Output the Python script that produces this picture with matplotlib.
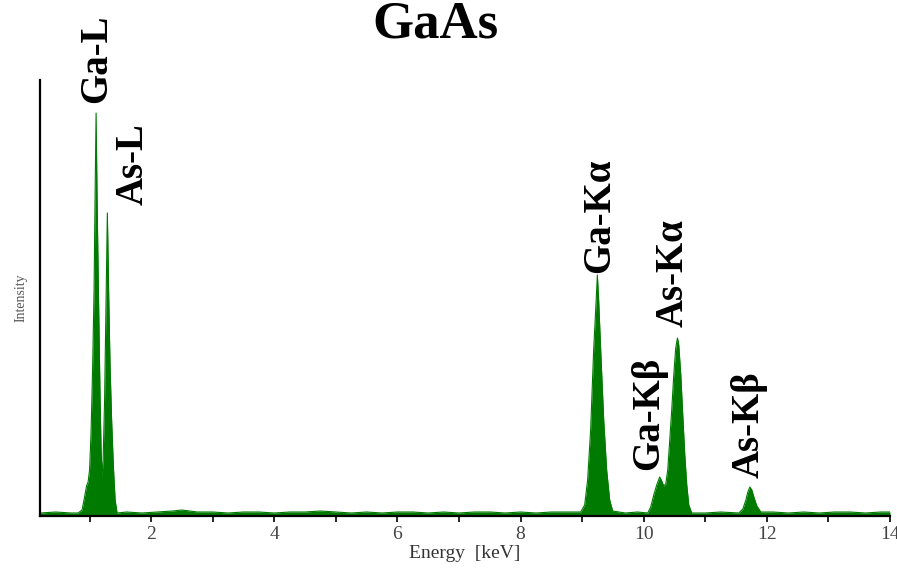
import numpy as np
import matplotlib.pyplot as plt

# EDS spectrum of GaAs, intensity in arbitrary units
bg_energy = [0.20, 0.45, 0.70, 1.60, 1.85, 2.10, 2.35, 2.50, 2.75, 3.00, 3.25, 3.50,
             3.75, 4.00, 4.25, 4.50, 4.75, 5.00, 5.25, 5.50, 5.75, 6.00, 6.25, 6.50,
             6.75, 7.00, 7.25, 7.50, 7.75, 8.00, 8.25, 8.50, 8.75, 9.70, 9.90, 11.00,
             11.25, 12.10, 12.35, 12.60, 12.85, 13.10, 13.35, 13.60, 13.85, 14.00]
bg_counts = [3, 4, 3, 4, 3, 4, 5, 6, 4, 4, 3, 4,
             4, 3, 4, 4, 5, 4, 3, 4, 3, 4, 4, 3,
             4, 3, 4, 4, 3, 4, 3, 4, 4, 3, 4, 3,
             4, 4, 3, 4, 3, 4, 4, 3, 4, 4]

gal_energy = [0.813, 0.878, 0.919, 0.951, 0.976, 1.000, 1.024, 1.049, 1.073, 1.089,
              1.106, 1.122, 1.146, 1.171, 1.187, 1.203, 1.220, 1.244, 1.268, 1.289,
              1.309, 1.333, 1.358, 1.387, 1.415, 1.447]
gal_counts = [3, 6, 19, 30, 34, 46, 83, 146, 226, 316,
              403, 316, 216, 116, 66, 39, 56, 116, 216, 303,
              226, 149, 96, 49, 16, 3]

gaka_energy = [8.976, 9.041, 9.089, 9.138, 9.187, 9.228, 9.247, 9.268, 9.301, 9.350,
               9.398, 9.447, 9.496]
gaka_counts = [4, 11, 36, 86, 166, 216, 241, 216, 166, 96, 46, 16, 5]

k_energy = [10.065, 10.114, 10.163, 10.211, 10.260, 10.293, 10.325, 10.358, 10.390,
            10.423, 10.455, 10.488, 10.520, 10.548, 10.569, 10.602, 10.634, 10.667,
            10.699, 10.732, 10.780]
k_counts = [3, 9, 21, 31, 39, 35, 30, 32, 46,
            76, 106, 141, 168, 178, 171, 141, 101, 61,
            31, 11, 3]

askb_energy = [11.545, 11.610, 11.659, 11.691, 11.724, 11.756, 11.789, 11.837, 11.902]
askb_counts = [3, 7, 16, 24, 29, 26, 19, 10, 4]

peak_names = ['Ga-L', 'As-L', 'Ga-K\u03b1', 'As-K\u03b1', 'Ga-K\u03b2', 'As-K\u03b2']
label_x = [1.12, 1.71, 9.28, 10.47, 10.08, 11.72]
label_y = [413, 311, 243, 189, 46, 38]

# merge background with the peak segments
peaks = [(gal_energy, gal_counts), (gaka_energy, gaka_counts),
         (k_energy, k_counts), (askb_energy, askb_counts)]
energy = list(bg_energy)
counts = list(bg_counts)
for e, c in peaks:
    keep = [i for i, x in enumerate(energy) if not (e[0] <= x <= e[-1])]
    energy = [energy[i] for i in keep] + list(e)
    counts = [counts[i] for i in keep] + list(c)
order = np.argsort(energy)
energy = np.array(energy)[order]
counts = np.array(counts)[order]

plt.rcParams['font.family'] = ['Liberation Serif', 'DejaVu Serif']

fig = plt.figure(figsize=(8.97, 5.71), dpi=100)
ax = fig.add_axes([40 / 897, 55 / 571, 850 / 897, 436 / 571])

green = '#007a00'
ax.fill_between(energy, 0, counts, color=green, linewidth=0)
ax.plot(energy, counts, color=green, linewidth=0.8)

ax.set_xlim(0.195, 14.0)
ax.set_ylim(0, 436)

for side in ['top', 'right']:
    ax.spines[side].set_visible(False)
ax.spines['left'].set_linewidth(1.6)
ax.spines['bottom'].set_linewidth(1.6)

ax.set_xticks([2, 4, 6, 8, 10, 12, 14])
ax.set_xticks(np.arange(1, 14, 2), minor=True)
ax.tick_params(axis='x', which='both', direction='out', length=4, width=1.2,
               labelsize=14, labelcolor='#444444', pad=3)
ax.set_yticks([])

ax.set_xlabel('Energy  [keV]', fontsize=14, color='#333333', labelpad=2)
ax.set_ylabel('Intensity', fontsize=10, color='#555555', labelpad=9)

for name, x, y in zip(peak_names, label_x, label_y):
    ax.text(x, y, name, rotation=90, ha='center', va='bottom',
            fontsize=28, fontweight='bold', color='black')

fig.text(435 / 897, 1 - 24 / 571, 'GaAs', ha='center', va='center',
         fontsize=38, fontweight='bold')

fig.savefig('out.png', dpi=100)
